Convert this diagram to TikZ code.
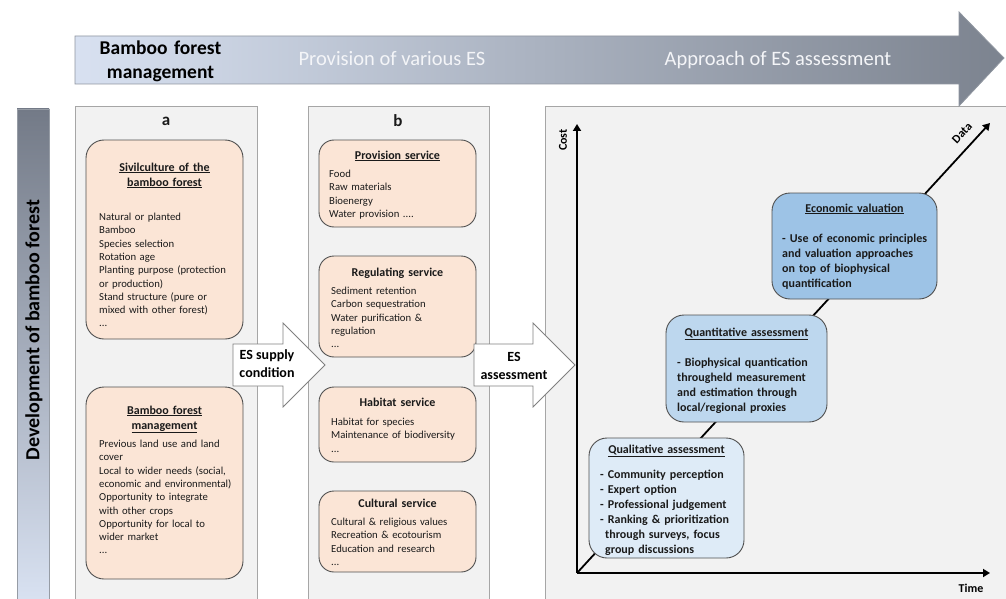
\documentclass[tikz,border=0pt]{standalone}
\usepackage{fontspec}
\setmainfont{Carlito}
\usetikzlibrary{arrows.meta}
\definecolor{panelfill}{HTML}{F2F2F2}
\definecolor{panelline}{HTML}{A6A6A6}
\definecolor{peach}{HTML}{FBE5D6}
\definecolor{boxline}{HTML}{505050}
\definecolor{txt}{HTML}{1A1A1A}
\definecolor{blueA}{HTML}{9DC3E6}
\definecolor{blueB}{HTML}{BDD7EE}
\definecolor{blueC}{HTML}{DEEBF7}
\definecolor{arrL}{HTML}{D8E1F1}
\definecolor{arrR}{HTML}{7C838F}
\definecolor{barTop}{HTML}{737A87}
\definecolor{barBot}{HTML}{D9E2F2}
\definecolor{arrowline}{HTML}{808080}
\definecolor{softwhite}{HTML}{F4F5F8}
\newcommand{\fsz}[2]{\fontsize{#1}{#2}\selectfont}
\tikzset{
  panel/.style={draw=panelline, fill=panelfill, line width=0.8pt},
  pbox/.style={draw=boxline, fill=peach, rounded corners=18pt, line width=0.9pt, anchor=north west, inner sep=0pt, outer sep=0pt},
  bbox/.style={draw=boxline, rounded corners=18pt, line width=0.9pt, anchor=north west, inner sep=0pt, outer sep=0pt},
  ptitle/.style={font=\fsz{12}{15}\bfseries, text=txt, text width=150pt, align=center, anchor=base, inner sep=0pt},
  pbody/.style={font=\fsz{10.7}{13.3}, text=txt, text width=150pt, align=left, anchor=base west, inner sep=0pt},
  cbody/.style={font=\fsz{12}{15}\bfseries, text=txt, text width=160pt, align=left, anchor=base west, inner sep=0pt},
  flow/.style={draw=arrowline, fill=white, line width=0.8pt},
  flowtext/.style={font=\fsz{14}{18}\bfseries, align=center, inner sep=0pt},
  axis/.style={line width=1.8pt, -{Triangle[width=8pt,length=7pt]}},
  axlabel/.style={font=\fsz{12}{14}\bfseries, inner sep=0pt},
  panellabel/.style={font=\fsz{17}{20}\bfseries, text=txt},
}
\begin{document}
\begin{tikzpicture}[x=1pt,y=-1pt]
\useasboundingbox (0,0) rectangle (1006,599);
\fill[white] (0,0) rectangle (1006,599);

% panels
\draw[panel] (75,106) rectangle (257,603);
\draw[panel] (308,106) rectangle (489,603);
\draw[panel] (545,106) rectangle (1010,603);
\node[panellabel] (la) at (166,121) {a};
\node[panellabel] (lb) at (398,121) {b};

% left bar
\shadedraw[top color=barTop, bottom color=barBot, draw=arrR!80, line width=0.6pt] (17,109) rectangle (49,603);
\node[font=\fsz{20}{24}\bfseries, rotate=90, text=black] (dev) at (34,330) {Development of bamboo forest};

% top arrow
\shadedraw[left color=arrL, right color=arrR, draw=arrR!85, line width=0.8pt]
  (75,36) -- (959,36) -- (959,12) -- (1004,58) -- (959,106) -- (959,84) -- (75,84) -- cycle;
\node[font=\fsz{19.5}{24}\bfseries, text width=160pt, align=center, text=black] (t1) at (160.5,61) {Bamboo forest\\management};
\node[font=\fsz{20.5}{24}, text=softwhite] (t2) at (392,59) {Provision of various ES};
\node[font=\fsz{20.5}{24}, text=softwhite] (t3) at (778,60) {Approach of ES assessment};

% panel a boxes
\node[pbox, minimum width=157pt, minimum height=199pt] (silv) at (86,140) {};
\node[ptitle] (silvT) at (164.5,171) {\underline{Sivilculture of the}\\\underline{bamboo forest}};
\node[pbody] (silvB) at (99,220.5) {Natural or planted\\Bamboo\\Species selection\\Rotation age\\Planting purpose (protection\\or production)\\Stand structure (pure or\\mixed with other forest)\\...};

\node[pbox, minimum width=157pt, minimum height=192pt] (mgmt) at (86,387) {};
\node[ptitle] (mgmtT) at (164.5,414) {\underline{Bamboo forest}\\\underline{management}};
\node[pbody] (mgmtB) at (99,447.5) {Previous land use and land\\cover\\Local to wider needs (social,\\economic and environmental)\\Opportunity to integrate\\with other crops\\Opportunity for local to\\wider market\\...};

% panel b boxes
\node[pbox, rounded corners=15pt, minimum width=157pt, minimum height=87pt] (prov) at (319,140) {};
\node[ptitle] (provT) at (397.5,159) {\underline{Provision service}};
\node[pbody] (provB) at (329,177.5) {Food\\Raw materials\\Bioenergy\\Water provision ....};

\node[pbox, rounded corners=15pt, minimum width=157pt, minimum height=101pt] (reg) at (319,256) {};
\node[ptitle] (regT) at (397.5,276) {Regulating service};
\node[pbody] (regB) at (331,294.5) {Sediment retention\\Carbon sequestration\\Water purification \&\\regulation\\...};

\node[pbox, rounded corners=15pt, minimum width=157pt, minimum height=75pt] (hab) at (319,387) {};
\node[ptitle] (habT) at (397.5,406) {Habitat service};
\node[pbody] (habB) at (331,425.5) {Habitat for species\\Maintenance of biodiversity\\...};

\node[pbox, rounded corners=15pt, minimum width=157pt, minimum height=81pt] (cult) at (319,491) {};
\node[ptitle] (cultT) at (397.5,507) {Cultural service};
\node[pbody] (cultB) at (331,525.5) {Cultural \& religious values\\Recreation \& ecotourism\\Education and research\\...};

% flow arrows
\draw[flow] (233,344) -- (283,344) -- (283,323) -- (325,365) -- (283,407) -- (283,386) -- (233,386) -- cycle;
\node[flowtext] (supply) at (267,364) {ES supply\\condition};
\draw[flow] (474,344) -- (533,344) -- (533,323) -- (575,365) -- (533,407) -- (533,386) -- (474,386) -- cycle;
\node[flowtext] (assess) at (514,366) {ES\\assessment};

% chart axes
\coordinate (O) at (577,573);
\coordinate (costtip) at (577,124);
\coordinate (timetip) at (990,573);
\coordinate (datatip) at (990,123);
\draw[axis] (O) -- (costtip);
\draw[axis] (O) -- (timetip);
\draw[axis] (O) -- (datatip);
\node[axlabel, rotate=90] (costL) at (563,140) {Cost};
\node[axlabel] (timeL) at (971,588) {Time};
\node[axlabel, rotate=47] (dataL) at (962,133) {Data};

% chart boxes
\node[bbox, fill=blueA, minimum width=165pt, minimum height=106pt] (econ) at (772,193) {};
\node[ptitle, text width=160pt] (econT) at (854.5,212) {\underline{Economic valuation}};
\node[cbody] (econB) at (782,242) {- Use of economic principles\\and valuation approaches\\on top of biophysical\\quantification};

\node[bbox, fill=blueB, minimum width=161pt, minimum height=107pt] (quant) at (666,315) {};
\node[ptitle, text width=160pt] (quantT) at (746.5,336) {\underline{Quantitative assessment}};
\node[cbody] (quantB) at (677,366) {- Biophysical quantication\\througheld measurement\\and estimation through\\local/regional proxies};

\node[bbox, fill=blueC, minimum width=155pt, minimum height=120pt] (qual) at (589,438) {};
\node[ptitle, text width=155pt] (qualT) at (666.5,453) {\underline{Qualitative assessment}};
\node[cbody] (qualB) at (600,478) {- Community perception\\- Expert option\\- Professional judgement\\- Ranking \& prioritization\\\hspace*{5pt}through surveys, focus\\\hspace*{5pt}group discussions};
\end{tikzpicture}
\end{document}
